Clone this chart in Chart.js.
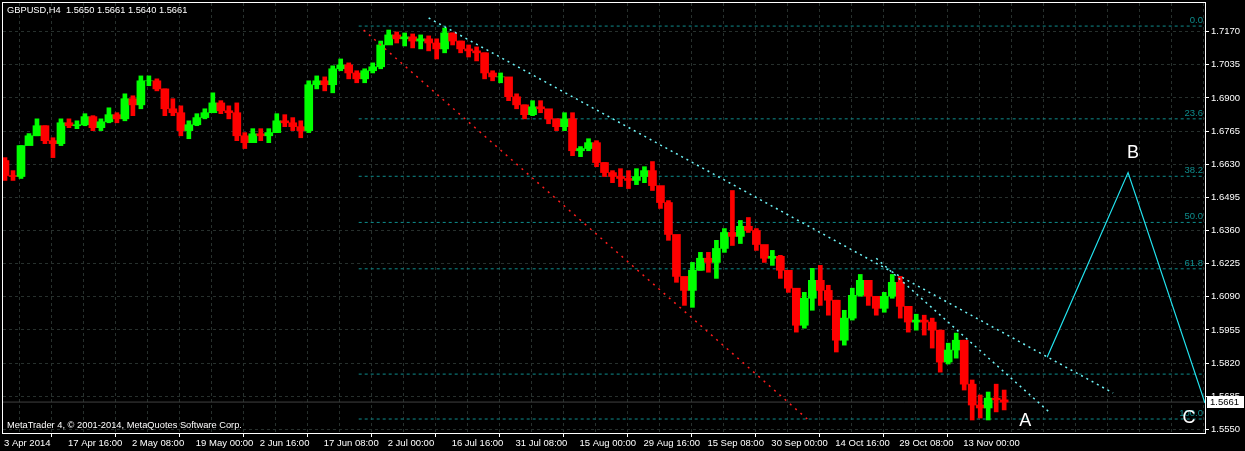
<!DOCTYPE html>
<html>
<head>
<meta charset="utf-8">
<script src="https://cdn.jsdelivr.net/npm/chart.js@4"></script>
<style>
  html, body { margin: 0; padding: 0; background: #000; }
  canvas { display: block; }
</style>
</head>
<body>
<canvas id="chart" width="1245" height="451"></canvas>
<script>
// GBPUSD H4, one candle per 8 H4 bars
const highs = [
  1.6657, 1.6604, 1.6706, 1.6755, 1.6815, 1.6787, 1.6738, 1.6815, 1.6815, 1.6807,
  1.6836, 1.6828, 1.6815, 1.6860, 1.6840, 1.6917, 1.6909, 1.6990, 1.6990, 1.6978,
  1.6937, 1.6897, 1.6868, 1.6807, 1.6836, 1.6856, 1.6921, 1.6889, 1.6868, 1.6880,
  1.6759, 1.6775, 1.6775, 1.6775, 1.6836, 1.6832, 1.6820, 1.6807, 1.6970, 1.6990,
  1.6986, 1.7031, 1.7059, 1.7043, 1.7011, 1.7019, 1.7043, 1.7132, 1.7177, 1.7169,
  1.7165, 1.7161, 1.7157, 1.7153, 1.7141, 1.7185, 1.7165, 1.7132, 1.7116, 1.7108,
  1.7084, 1.7011, 1.7002, 1.6954, 1.6917, 1.6872, 1.6889, 1.6889, 1.6848, 1.6815,
  1.6840, 1.6840, 1.6702, 1.6734, 1.6726, 1.6637, 1.6604, 1.6612, 1.6604, 1.6612,
  1.6620, 1.6641, 1.6539, 1.6482, 1.6336, 1.6165, 1.6230, 1.6271, 1.6271, 1.6320,
  1.6368, 1.6523, 1.6401, 1.6413, 1.6368, 1.6299, 1.6279, 1.6259, 1.6190, 1.6116,
  1.6108, 1.6206, 1.6218, 1.6137, 1.6076, 1.6035, 1.6125, 1.6181, 1.6149, 1.6084,
  1.6108, 1.6181, 1.6173, 1.6035, 1.6019, 1.6015, 1.6003, 1.5954, 1.5901, 1.5942,
  1.5913, 1.5751, 1.5690, 1.5702, 1.5734, 1.5710
];
const lows = [
  1.6564, 1.6564, 1.6572, 1.6726, 1.6746, 1.6714, 1.6657, 1.6706, 1.6779, 1.6775,
  1.6787, 1.6767, 1.6767, 1.6799, 1.6799, 1.6807, 1.6828, 1.6856, 1.6950, 1.6929,
  1.6828, 1.6828, 1.6746, 1.6734, 1.6787, 1.6815, 1.6840, 1.6836, 1.6815, 1.6726,
  1.6694, 1.6718, 1.6726, 1.6718, 1.6759, 1.6783, 1.6767, 1.6738, 1.6759, 1.6937,
  1.6929, 1.6921, 1.7011, 1.6978, 1.6962, 1.6962, 1.7002, 1.7019, 1.7124, 1.7124,
  1.7112, 1.7104, 1.7100, 1.7092, 1.7059, 1.7084, 1.7116, 1.7084, 1.7067, 1.7051,
  1.6978, 1.6970, 1.6962, 1.6889, 1.6856, 1.6815, 1.6828, 1.6840, 1.6795, 1.6767,
  1.6767, 1.6665, 1.6661, 1.6685, 1.6620, 1.6580, 1.6555, 1.6539, 1.6531, 1.6547,
  1.6555, 1.6523, 1.6450, 1.6320, 1.6149, 1.6055, 1.6047, 1.6198, 1.6190, 1.6165,
  1.6271, 1.6299, 1.6307, 1.6352, 1.6279, 1.6230, 1.6218, 1.6165, 1.6108, 1.5946,
  1.5962, 1.6035, 1.6055, 1.6015, 1.5865, 1.5893, 1.5995, 1.6092, 1.6055, 1.6015,
  1.6027, 1.6084, 1.6003, 1.5946, 1.5954, 1.5934, 1.5881, 1.5783, 1.5816, 1.5840,
  1.5710, 1.5588, 1.5596, 1.5588, 1.5621, 1.5629
];
const closes = [
  1.6584, 1.6580, 1.6706, 1.6746, 1.6787, 1.6726, 1.6714, 1.6799, 1.6787, 1.6791,
  1.6824, 1.6779, 1.6803, 1.6832, 1.6815, 1.6897, 1.6872, 1.6970, 1.6970, 1.6937,
  1.6856, 1.6840, 1.6767, 1.6791, 1.6820, 1.6840, 1.6880, 1.6848, 1.6840, 1.6746,
  1.6718, 1.6754, 1.6746, 1.6759, 1.6807, 1.6799, 1.6783, 1.6767, 1.6954, 1.6970,
  1.6954, 1.7019, 1.7035, 1.7002, 1.6978, 1.7011, 1.7027, 1.7116, 1.7157, 1.7141,
  1.7149, 1.7132, 1.7141, 1.7124, 1.7100, 1.7165, 1.7132, 1.7100, 1.7092, 1.7084,
  1.7002, 1.6986, 1.6986, 1.6905, 1.6872, 1.6832, 1.6864, 1.6856, 1.6815, 1.6783,
  1.6815, 1.6685, 1.6694, 1.6718, 1.6637, 1.6596, 1.6580, 1.6572, 1.6564, 1.6580,
  1.6604, 1.6543, 1.6474, 1.6344, 1.6173, 1.6116, 1.6198, 1.6247, 1.6230, 1.6287,
  1.6352, 1.6336, 1.6377, 1.6360, 1.6303, 1.6247, 1.6255, 1.6198, 1.6125, 1.5974,
  1.6084, 1.6157, 1.6116, 1.6076, 1.5913, 1.6003, 1.6096, 1.6157, 1.6092, 1.6043,
  1.6092, 1.6149, 1.6051, 1.5987, 1.5995, 1.5987, 1.5954, 1.5824, 1.5873, 1.5913,
  1.5734, 1.5649, 1.5637, 1.5677, 1.5670, 1.5661
];
const firstOpen = 1.6645;
const barsPerCandle = 8;

const xTickLabels = [
  "3 Apr 2014", "17 Apr 16:00", "2 May 08:00", "19 May 00:00", "2 Jun 16:00",
  "17 Jun 08:00", "2 Jul 00:00", "16 Jul 16:00", "31 Jul 08:00", "15 Aug 00:00",
  "29 Aug 16:00", "15 Sep 08:00", "30 Sep 00:00", "14 Oct 16:00", "29 Oct 08:00",
  "13 Nov 00:00"
];
const priceTicks = [1.5550, 1.5685, 1.5820, 1.5955, 1.6090, 1.6225, 1.6360,
  1.6495, 1.6630, 1.6765, 1.6900, 1.7035, 1.7170];

// fibonacci retracement
const fibLevels = [1.7193, 1.6815, 1.6581, 1.6393, 1.6204, 1.5775, 1.5592];
const fibNames = ["0.0", "23.6", "38.2", "50.0", "61.8", "", "100.0"];
const fibStart = 355;
const fibEnd = 1202;

// trend lines, x in H4 bars
const upperLine = [{ x: 425, y: 1.7226 }, { x: 1110, y: 1.5698 }];
const steepLine = [{ x: 873, y: 1.6247 }, { x: 1047, y: 1.5617 }];
const redLine = [{ x: 360, y: 1.7177 }, { x: 805, y: 1.5588 }];
const abcLine = [{ x: 1044, y: 1.5844 }, { x: 1125, y: 1.6596 }, { x: 1202, y: 1.5657 }];
const waveLabels = [
  { text: "A", x: 1022, y: 1.5584 },
  { text: "B", x: 1130, y: 1.6677 },
  { text: "C", x: 1186, y: 1.5596 }
];

const lastPrice = 1.5661;
const header = "GBPUSD,H4  1.5650 1.5661 1.5640 1.5661";
const footer = "MetaTrader 4, \u00a9 2001-2014, MetaQuotes Software Corp.";

const FONT = "'Liberation Sans', Arial, sans-serif";
const GRID = "#27302d";
const FIB = "#0e8c8c";
const BULL = "#00ff00";
const BEAR = "#ff0000";

const opens = closes.map((c, i) => (i === 0 ? firstOpen : closes[i - 1]));
const candleX = (i) => i * barsPerCandle + 1;
const candleColor = (i) => (closes[i] >= opens[i] ? BULL : BEAR);

const wickData = highs.map((h, i) => ({ x: candleX(i), y: [lows[i], h] }));
const bodyData = closes.map((c, i) => ({ x: candleX(i), y: [opens[i], c] }));

const datasets = [];

fibLevels.forEach((lvl) => {
  datasets.push({
    type: "line",
    data: [{ x: fibStart, y: lvl }, { x: fibEnd, y: lvl }],
    borderColor: FIB,
    borderWidth: 1,
    borderDash: [3, 3],
    pointRadius: 0,
    order: 5,
  });
});

datasets.push({
  type: "line",
  data: [{ x: -1, y: lastPrice }, { x: 1202, y: lastPrice }],
  borderColor: "#404040",
  borderWidth: 1,
  pointRadius: 0,
  order: 6,
});

datasets.push({
  type: "bar",
  data: wickData,
  backgroundColor: (c) => candleColor(c.dataIndex),
  barThickness: 4,
  grouped: false,
  order: 2,
});
datasets.push({
  type: "bar",
  data: bodyData,
  backgroundColor: (c) => candleColor(c.dataIndex),
  barThickness: 8,
  grouped: false,
  order: 1,
});

[
  [upperLine, "#6ff6fa", [2, 4], 1.5],
  [steepLine, "#6ff6fa", [2, 4], 1.5],
  [redLine, "#ff1c1c", [2, 5], 1.5],
  [abcLine, "#22e4f0", [], 1.2],
].forEach(([pts, color, dash, w]) => {
  datasets.push({
    type: "line",
    data: pts,
    borderColor: color,
    borderWidth: w,
    borderDash: dash,
    pointRadius: 0,
    tension: 0,
    order: 0,
  });
});

const mtDecor = {
  id: "mtDecor",
  beforeDraw(chart) {
    const ctx = chart.ctx;
    ctx.save();
    ctx.fillStyle = "#000";
    ctx.fillRect(0, 0, chart.width, chart.height);
    ctx.restore();
  },
  afterDatasetsDraw(chart) {
    const ctx = chart.ctx;
    const xs = chart.scales.x;
    const ys = chart.scales.y;
    const a = chart.chartArea;
    ctx.save();
    ctx.font = "9.5px " + FONT;
    ctx.fillStyle = FIB;
    ctx.textAlign = "right";
    ctx.textBaseline = "alphabetic";
    fibLevels.forEach((lvl, i) => {
      if (fibNames[i]) ctx.fillText(fibNames[i], a.right - 2, ys.getPixelForValue(lvl) - 3);
    });
    ctx.font = "18px " + FONT;
    ctx.fillStyle = "#fff";
    ctx.textAlign = "center";
    ctx.textBaseline = "middle";
    waveLabels.forEach((w) => {
      ctx.fillText(w.text, xs.getPixelForValue(w.x), ys.getPixelForValue(w.y));
    });
    ctx.restore();
  },
  afterDraw(chart) {
    const ctx = chart.ctx;
    const a = chart.chartArea;
    const ys = chart.scales.y;
    ctx.save();
    ctx.strokeStyle = "#fff";
    ctx.lineWidth = 1;
    ctx.strokeRect(a.left - 0.5, a.top - 0.5, a.right - a.left + 1, a.bottom - a.top + 1);

    ctx.fillStyle = "#fff";
    ctx.font = "9.3px " + FONT;
    ctx.textAlign = "left";
    ctx.textBaseline = "middle";
    ctx.fillText(header, 7, 10.5);
    ctx.fillText(footer, 7, 425.5);

    const py = Math.round(ys.getPixelForValue(lastPrice));
    ctx.fillStyle = "#fff";
    ctx.fillRect(a.right + 2, py - 6, 37, 12);
    ctx.fillStyle = "#000";
    ctx.font = "9.5px " + FONT;
    ctx.fillText(lastPrice.toFixed(4), a.right + 5, py + 0.5);
    ctx.restore();
  },
};

const noPad = (axis) => {
  axis.paddingTop = 0;
  axis.paddingBottom = 0;
  axis.paddingLeft = 0;
  axis.paddingRight = 0;
};

new Chart(document.getElementById("chart"), {
  type: "bar",
  data: { datasets },
  options: {
    responsive: false,
    devicePixelRatio: 1,
    animation: false,
    events: [],
    layout: { padding: { left: 3, top: 3, right: 0, bottom: 0 } },
    plugins: { legend: { display: false }, tooltip: { enabled: false } },
    scales: {
      x: {
        type: "linear",
        position: "bottom",
        min: -1,
        max: 1202,
        offset: false,
        afterBuildTicks: (axis) => {
          const t = [];
          for (let v = 0; v <= 1184; v += 32) t.push({ value: v });
          axis.ticks = t;
        },
        afterFit: (axis) => { axis.height = 18; noPad(axis); },
        grid: {
          color: GRID,
          lineWidth: 1,
          tickLength: 4,
          tickColor: (c) => (c.tick && c.tick.value % 64 === 0 && c.tick.value / 64 < xTickLabels.length ? "#fff" : "rgba(0,0,0,0)"),
          tickBorderDash: [],
        },
        border: { display: true, color: "#fff", dash: [3, 3] },
        ticks: {
          autoSkip: false,
          maxRotation: 0,
          minRotation: 0,
          align: "start",
          padding: 1,
          color: "#fff",
          font: { family: FONT, size: 9.5 },
          callback: (v) => (v % 64 === 0 && xTickLabels[v / 64] ? xTickLabels[v / 64] : ""),
        },
      },
      y: {
        type: "linear",
        position: "right",
        min: 1.5535,
        max: 1.7287,
        afterBuildTicks: (axis) => {
          axis.ticks = priceTicks.map((v) => ({ value: v }));
        },
        afterFit: (axis) => { axis.width = 40; noPad(axis); },
        grid: {
          color: GRID,
          lineWidth: 1,
          tickLength: 4,
          tickColor: "#fff",
          tickBorderDash: [],
        },
        border: { display: true, color: "#fff", dash: [3, 3] },
        ticks: {
          padding: 2,
          color: "#fff",
          font: { family: FONT, size: 9.5 },
          callback: (v) => Number(v).toFixed(4),
        },
      },
    },
  },
  plugins: [mtDecor],
});
</script>
</body>
</html>
